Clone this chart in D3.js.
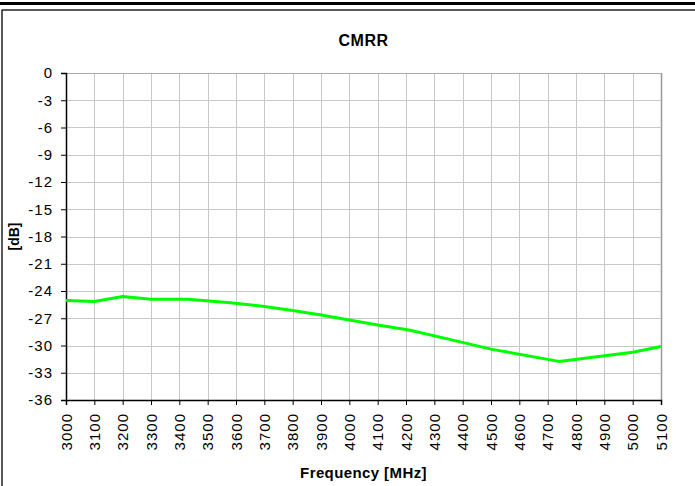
<!DOCTYPE html>
<html>
<head>
<meta charset="utf-8">
<script src="https://cdn.jsdelivr.net/npm/d3@7"></script>
<style>
  body { margin: 0; background: #fff; }
  svg { display: block; font-family: Arial, "Liberation Sans", sans-serif; }
</style>
</head>
<body>
<svg id="chart" width="695" height="486"></svg>
<script>
const freqs = [3000, 3100, 3200, 3300, 3430, 3580, 3700, 3800, 3900, 4000, 4100, 4210, 4350, 4500, 4740, 5000, 5100];
const cmrr = [-25.05, -25.15, -24.6, -24.9, -24.9, -25.3, -25.7, -26.15, -26.65, -27.2, -27.75, -28.3, -29.3, -30.4, -31.75, -30.75, -30.1];
const xTicks = d3.range(3000, 5101, 100);
const yTicks = d3.range(0, -37, -3);

const svg = d3.select('#chart');
const W = 695, H = 486;
const margin = { top: 73, right: 34, bottom: 86, left: 66 };
const width = W - margin.left - margin.right;   // 595
const height = H - margin.top - margin.bottom;  // 327

// outer frame lines
svg.append('line')
  .attr('x1', 0).attr('x2', W).attr('y1', 3.5).attr('y2', 3.5)
  .attr('stroke', '#000').attr('stroke-width', 3);
svg.append('line')
  .attr('x1', 1.5).attr('x2', W).attr('y1', 10).attr('y2', 10)
  .attr('stroke', '#222').attr('stroke-width', 1.5);
svg.append('line')
  .attr('x1', 2).attr('x2', 2).attr('y1', 10).attr('y2', H)
  .attr('stroke', '#222').attr('stroke-width', 1.5);

const x = d3.scaleLinear().domain([3000, 5100]).range([0, width]);
const y = d3.scaleLinear().domain([-36, 0]).range([height, 0]);

const g = svg.append('g')
  .attr('transform', `translate(${margin.left},${margin.top})`);

// grid
g.append('g').selectAll('line.v')
  .data(xTicks)
  .enter().append('line')
  .attr('x1', d => Math.round(x(d)) + 0.5).attr('x2', d => Math.round(x(d)) + 0.5)
  .attr('y1', 0).attr('y2', height)
  .attr('stroke', d => d === 5100 ? '#999' : '#c8c8c8').attr('stroke-width', d => d === 5100 ? 1.5 : 1);

g.append('g').selectAll('line.h')
  .data(yTicks)
  .enter().append('line')
  .attr('x1', 0).attr('x2', width)
  .attr('y1', d => Math.round(y(d)) + 0.5).attr('y2', d => Math.round(y(d)) + 0.5)
  .attr('stroke', d => d === 0 ? '#aaa' : '#c8c8c8');

// axes (plain hyphen for negatives, like the original)
const yAxis = g.append('g')
  .call(d3.axisLeft(y).tickValues(yTicks).tickSize(5).tickPadding(8).tickFormat(d => String(d)));
const xAxis = g.append('g')
  .attr('transform', `translate(0,${height})`)
  .call(d3.axisBottom(x).tickValues(xTicks).tickSize(5).tickFormat(d => String(d)));

[yAxis, xAxis].forEach(a => {
  a.select('.domain').attr('stroke', '#000').attr('stroke-width', 1.5);
  a.selectAll('.tick line').attr('stroke', '#000');
  a.selectAll('.tick text')
    .attr('fill', '#000')
    .style('font-size', '15px')
    .style('letter-spacing', '1px')
    .style('font-family', 'Arial, "Liberation Sans", sans-serif');
});

xAxis.selectAll('.tick text')
  .attr('transform', 'rotate(-90)')
  .attr('x', -13)
  .attr('y', 0)
  .attr('dy', '0.35em')
  .style('text-anchor', 'end');

// data line
g.append('path')
  .datum(freqs.map((f, i) => [f, cmrr[i]]))
  .attr('fill', 'none')
  .attr('stroke', '#00ff00')
  .attr('stroke-width', 3)
  .attr('stroke-linejoin', 'round')
  .attr('d', d3.line().x(d => x(d[0])).y(d => y(d[1])));

// title
svg.append('text')
  .attr('x', margin.left + width / 2)
  .attr('y', 46)
  .attr('text-anchor', 'middle')
  .style('font-size', '16px')
  .style('font-weight', 'bold')
  .style('letter-spacing', '0.5px')
  .text('CMRR');

// x label
svg.append('text')
  .attr('x', margin.left + width / 2)
  .attr('y', 478)
  .attr('text-anchor', 'middle')
  .style('font-size', '15px')
  .style('font-weight', 'bold')
  .style('letter-spacing', '0.4px')
  .text('Frequency [MHz]');

// y label
svg.append('text')
  .attr('transform', `translate(19,${margin.top + height / 2}) rotate(-90)`)
  .attr('text-anchor', 'middle')
  .style('font-size', '14px')
  .style('font-weight', 'bold')
  .text('[dB]');
</script>
</body>
</html>
